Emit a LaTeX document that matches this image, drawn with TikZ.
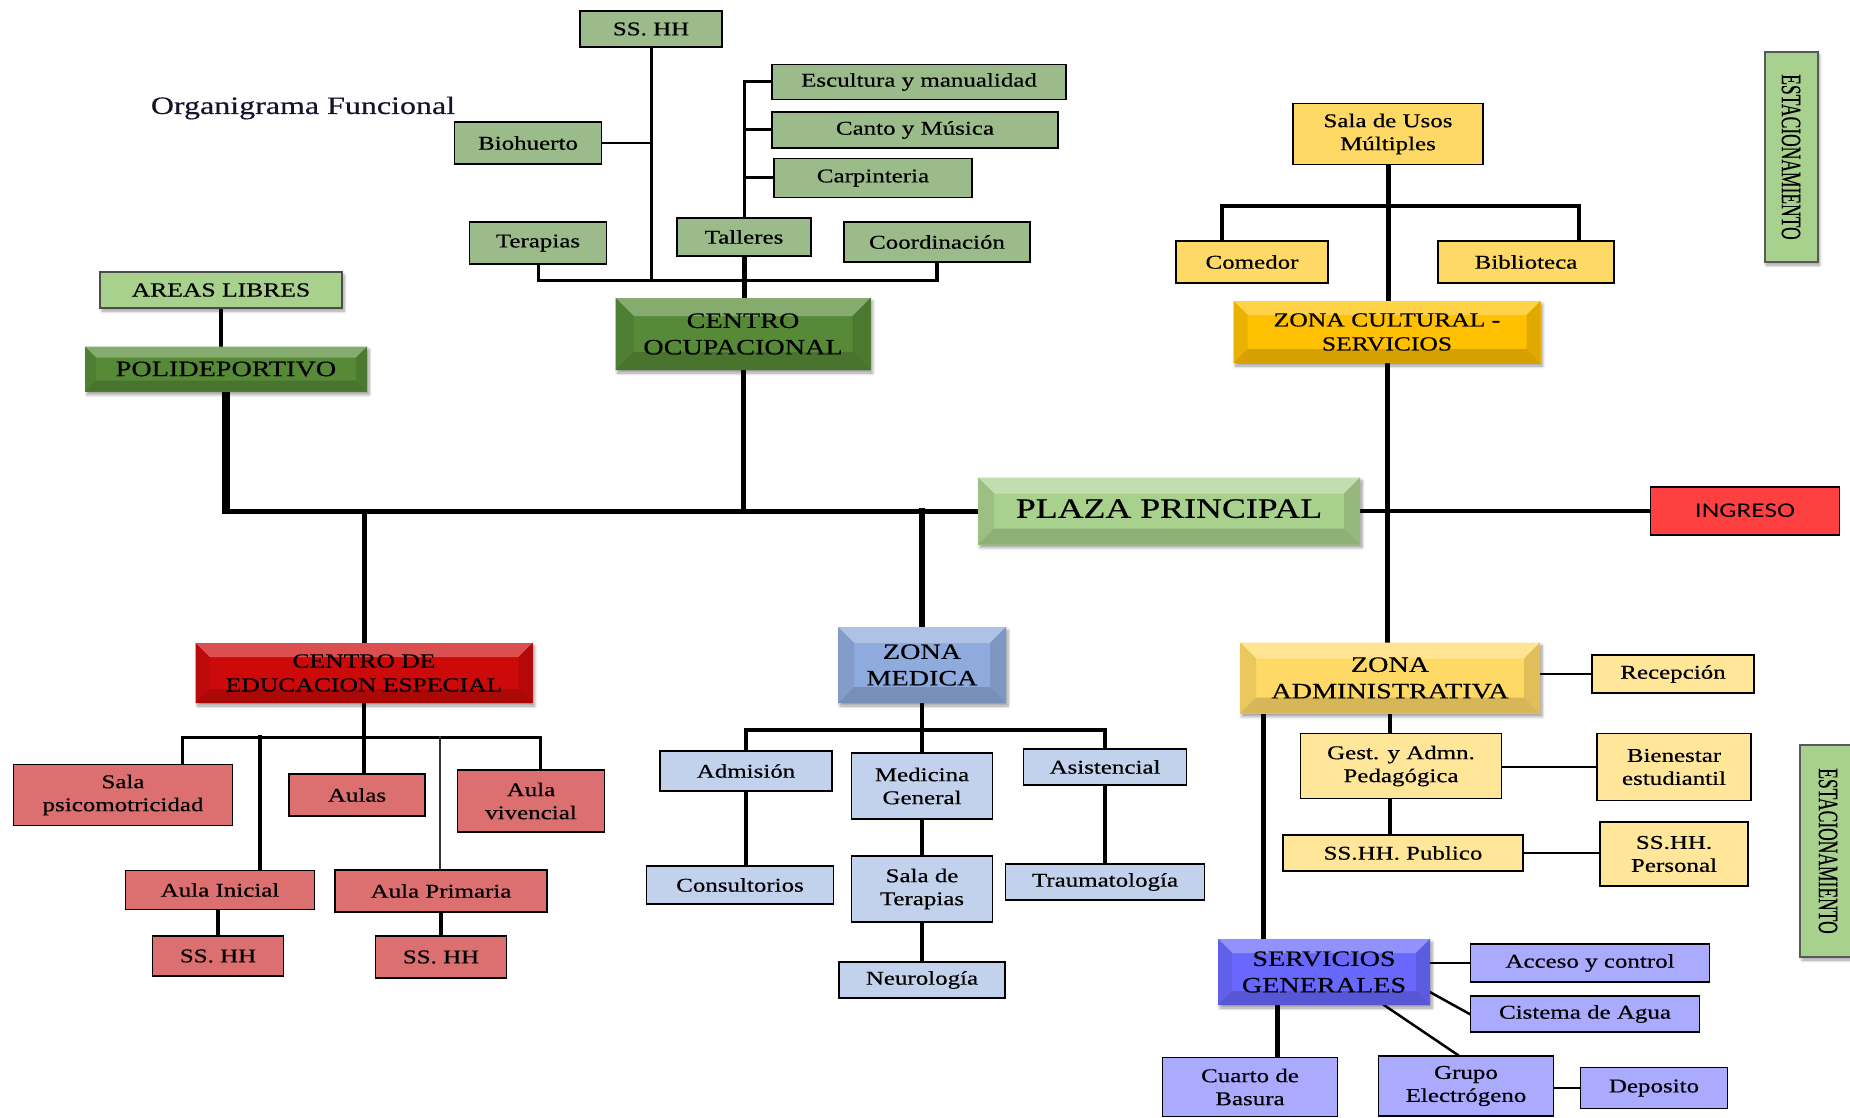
\documentclass[tikz,border=0pt]{standalone}
\usepackage{fontspec}
\setmainfont[FakeStretch=1.28,FakeBold=0.5]{Liberation Serif}
\newfontfamily\plainserif[FakeBold=0.4]{Liberation Serif}
\newfontfamily\ingfont[FakeStretch=1.3]{Carlito}
\usetikzlibrary{shadows.blur,calc,backgrounds}
\definecolor{cOlive}{HTML}{9CBB8A}
\definecolor{cLG}{HTML}{A9D18E}
\definecolor{cDG}{HTML}{568A37}
\definecolor{cRedL}{HTML}{DC7070}
\definecolor{cRedD}{HTML}{CC0A0A}
\definecolor{cBlueL}{HTML}{C3D2EC}
\definecolor{cBlueD}{HTML}{8FAADC}
\definecolor{cYel}{HTML}{FFD966}
\definecolor{cYelL}{HTML}{FFE699}
\definecolor{cGold}{HTML}{FFC000}
\definecolor{cPur}{HTML}{6868FF}
\definecolor{cPurL}{HTML}{AAAAFF}
\definecolor{cIng}{HTML}{FF4040}
\definecolor{cTitle}{HTML}{14142C}
\tikzset{
  bx/.style={draw=black, line width=1.8pt, inner sep=0pt, align=center, text=black,
    font=\fontsize{19.5}{23}\selectfont},
  wh/.style 2 args={minimum width=#1pt, minimum height=#2pt},
  og/.style={bx, fill=cOlive},
  yl/.style={bx, fill=cYel},
  yp/.style={bx, fill=cYelL},
  rd/.style={bx, fill=cRedL},
  bl/.style={bx, fill=cBlueL},
  pu/.style={bx, fill=cPurL},
  shd/.style={blur shadow={shadow blur steps=6, shadow xshift=2pt, shadow yshift=-3pt,
    shadow opacity=40, shadow blur radius=3pt}},
  bev/.style 2 args={fill=#1, draw=none, inner sep=0pt, align=center, text=black, shd,
    path picture={
      \fill[#1!72!white] (path picture bounding box.north west) -- (path picture bounding box.north east)
        -- ([shift={(-#2pt,-#2pt)}]path picture bounding box.north east)
        -- ([shift={(#2pt,-#2pt)}]path picture bounding box.north west) -- cycle;
      \fill[#1!92!black] (path picture bounding box.north west) -- ([shift={(#2pt,-#2pt)}]path picture bounding box.north west)
        -- ([shift={(#2pt,#2pt)}]path picture bounding box.south west) -- (path picture bounding box.south west) -- cycle;
      \fill[#1!88!black] (path picture bounding box.north east) -- ([shift={(-#2pt,-#2pt)}]path picture bounding box.north east)
        -- ([shift={(-#2pt,#2pt)}]path picture bounding box.south east) -- (path picture bounding box.south east) -- cycle;
      \fill[#1!84!black] (path picture bounding box.south west) -- ([shift={(#2pt,#2pt)}]path picture bounding box.south west)
        -- ([shift={(-#2pt,#2pt)}]path picture bounding box.south east) -- (path picture bounding box.south east) -- cycle;
    }},
  big/.style={font=\fontsize{22}{26.5}\selectfont},
  mid/.style={font=\fontsize{20}{24}\selectfont},
  ln/.style={line width=#1pt, draw=black, line cap=rect},
  estbox/.style={draw=black!65, line width=2pt, fill=cLG, shd, inner sep=0pt, rotate=-90,
    font=\plainserif\fontsize{17.5}{20}\selectfont},
}
\begin{document}
\begin{tikzpicture}[x=1pt,y=-1pt]
\useasboundingbox (0,0) rectangle (1850,1118);

% ---------- title ----------
\node[text=cTitle, font=\fontsize{25}{30}\selectfont] (title) at (303,108) {Organigrama Funcional};

% ---------- green (centro ocupacional / polideportivo) ----------
\node[og, wh={142}{36}] (ssA) at (651,29) {SS. HH};
\node[og, wh={147}{42}] (bio) at (528,143) {Biohuerto};
\node[og, wh={137}{42}] (ter) at (538,243) {Terapias};
\node[og, wh={294}{35}] (esc) at (919,82) {Escultura y manualidad};
\node[og, wh={286}{36}] (can) at (915,130) {Canto y Música};
\node[og, wh={198}{39}] (car) at (873,178) {Carpinteria};
\node[og, wh={134}{38}] (tal) at (744,237) {Talleres};
\node[og, wh={186}{40}] (coo) at (937,242) {Coordinación};
\node[bev={cDG}{18}, wh={255}{72}, big] (ocu) at (743,334) {CENTRO\\OCUPACIONAL};
\node[bx, fill=cLG, draw=black!70, shd, wh={242}{36}, mid] (areas) at (221,290) {AREAS LIBRES};
\node[bev={cDG}{11}, wh={282}{45}, big] (poli) at (226,369) {POLIDEPORTIVO};

% ---------- plaza / ingreso ----------
\node[bev={cLG}{16}, wh={382}{67}, font=\fontsize{28}{32}\selectfont] (plaza) at (1169,511) {\raisebox{5pt}{PLAZA PRINCIPAL}};
\node[bx, fill=cIng, wh={189}{48}, font=\ingfont\fontsize{21}{24}\selectfont] (ing) at (1745,511) {INGRESO};

% ---------- estacionamiento ----------
\node[estbox, minimum width=210pt, minimum height=53pt] (est1) at (1791,157) {\scalebox{1}[1.6]{ESTACIONAMIENTO}};
\node[estbox, minimum width=212pt, minimum height=56pt] (est2) at (1828,851) {\scalebox{1}[1.6]{ESTACIONAMIENTO}};

% ---------- yellow ----------
\node[yl, wh={190}{61}] (sum) at (1388,134) {Sala de Usos\\Múltiples};
\node[yl, wh={152}{42}] (com) at (1252,262) {Comedor};
\node[yl, wh={176}{42}] (bib) at (1526,262) {Biblioteca};
\node[bev={cGold}{14}, wh={307}{62}, mid] (zcs) at (1387,332) {ZONA CULTURAL -\\SERVICIOS};
\node[bev={cYel}{16}, wh={300}{71}, big] (zad) at (1390,678) {ZONA\\ADMINISTRATIVA};
\node[yp, wh={162}{38}] (rec) at (1673,674) {Recepción};
\node[yp, wh={201}{65}] (ges) at (1401,766) {Gest. y Admn.\\Pedagógica};
\node[yp, wh={154}{67}] (bie) at (1674,767) {Bienestar\\estudiantil};
\node[yp, wh={240}{36}] (ssp) at (1403,853) {SS.HH. Publico};
\node[yp, wh={148}{64}] (sspe) at (1674,854) {SS.HH.\\Personal};

% ---------- purple ----------
\node[bev={cPur}{14}, wh={212}{66}, big] (sg) at (1324,972) {SERVICIOS\\GENERALES};
\node[pu, wh={239}{38}] (acc) at (1590,963) {Acceso y control};
\node[pu, wh={229}{36}] (cis) at (1585,1014) {Cistema de Agua};
\node[pu, wh={175}{59}] (cua) at (1250,1087) {Cuarto de\\Basura};
\node[pu, wh={175}{60}] (gru) at (1466,1086) {Grupo\\Electrógeno};
\node[pu, wh={147}{41}] (dep) at (1654,1088) {Deposito};

% ---------- blue ----------
\node[bev={cBlueD}{16}, wh={168}{76}, big] (zm) at (922,665) {ZONA\\MEDICA};
\node[bl, wh={172}{40}] (adm) at (746,771) {Admisión};
\node[bl, wh={141}{66}] (med) at (922,786) {Medicina\\General};
\node[bl, wh={163}{36}] (asi) at (1105,767) {Asistencial};
\node[bl, wh={187}{38}] (con) at (740,885) {Consultorios};
\node[bl, wh={141}{66}] (sal) at (922,889) {Sala de\\Terapias};
\node[bl, wh={199}{36}] (tra) at (1105,882) {Traumatología};
\node[bl, wh={166}{36}] (neu) at (922,980) {Neurología};

% ---------- red ----------
\node[bev={cRedD}{14}, wh={337}{60}, mid] (cee) at (364,673) {CENTRO DE\\EDUCACION ESPECIAL};
\node[rd, wh={219}{61}] (psi) at (123,795) {Sala\\psicomotricidad};
\node[rd, wh={136}{42}] (aul) at (357,795) {Aulas};
\node[rd, wh={147}{62}] (viv) at (531,801) {Aula\\vivencial};
\node[rd, wh={189}{39}] (ini) at (220,890) {Aula Inicial};
\node[rd, wh={212}{42}] (pri) at (441,891) {Aula Primaria};
\node[rd, wh={131}{40}] (ssB) at (218,956) {SS. HH};
\node[rd, wh={131}{42}] (ssC) at (441,957) {SS. HH};

% ---------- junction coordinates ----------
\coordinate (hb) at (651,280);
\coordinate (yb) at (1388,206);
\coordinate (mb) at (922,730);
\coordinate (rL) at (182,737);
\coordinate (rR) at (540,737);
\coordinate (rI) at (260,737);
\coordinate (rP) at (440,737);

% ---------- connectors (behind nodes) ----------
\begin{scope}[on background layer]
% green top cluster
\draw[ln=3] (ter.south) -- (ter.south |- hb) -- (coo.south |- hb);
\draw[ln=4.5] (coo.south) -- (coo.south |- hb);
\draw[ln=3] (ssA.south) -- (ssA.south |- hb);
\draw[ln=2] (bio.east) -- (bio.east -| ssA.south);
\draw[ln=3] (tal.north) -- (tal.north |- esc.west) -- (esc.west);
\draw[ln=3] (tal.north |- can.west) -- (can.west);
\draw[ln=3] (tal.north |- car.west) -- (car.west);
\draw[ln=5] (tal.south) -- (tal.south |- ocu.north);
\draw[ln=4] (areas.south) -- (areas.south |- poli.north);
% main trunk
\draw[line width=8pt, line cap=butt] (poli.south) -- ([yshift=-2.5pt]poli.south |- plaza.west);
\draw[line width=5pt, line cap=butt] ([xshift=-4pt]poli.south |- plaza.west) -- (plaza.west);
\draw[ln=5] (ocu.south) -- (ocu.south |- plaza.west);
\draw[ln=5] (cee.north) -- (cee.north |- plaza.west);
\draw[ln=6] (zm.north) -- (zm.north |- plaza.west);
\draw[ln=4.5] (plaza.east) -- (ing.west);
% right vertical spine
\draw[ln=5] (sum.south) -- (sum.south |- zcs.north);
\draw[ln=5] (zcs.south) -- (zcs.south |- zad.north);
\draw[ln=3.5] ([xshift=-30pt]com.north) -- ([xshift=-30pt]com.north |- yb) -- ([xshift=53pt]bib.north |- yb) -- ([xshift=53pt]bib.north);
% administrative
\draw[ln=2] (zad.east |- rec.west) -- (rec.west);
\draw[ln=4] (zad.south) -- (zad.south |- ges.north);
\draw[ln=2] (ges.east |- bie.west) -- (bie.west);
\draw[ln=4] (zad.south |- ges.south) -- (zad.south |- ssp.north);
\draw[ln=2] (ssp.east) -- (ssp.east -| sspe.west);
\draw[ln=5] ([xshift=24pt]zad.south west) -- ([xshift=24pt]zad.south west |- sg.north);
% servicios generales
\draw[ln=2.5] (sg.east |- acc.west) -- (acc.west);
\draw[ln=2.5] ([yshift=13pt]sg.south east) -- (cis.west);
\draw[ln=2.5] ([xshift=-46pt]sg.south east) -- ([xshift=-8pt]gru.north);
\draw[ln=5] ([xshift=-47pt]sg.south) -- ([xshift=-47pt]sg.south |- cua.north);
\draw[ln=2.5] (gru.east |- dep.west) -- (dep.west);
% medical
\draw[ln=4.5] (zm.south) -- (zm.south |- mb);
\draw[ln=3.5] (adm.north) -- (adm.north |- mb) -- (asi.north |- mb) -- (asi.north);
\draw[ln=4.5] (med.north |- mb) -- (med.north);
\draw[ln=4] (adm.south) -- (adm.south |- con.north);
\draw[ln=4] (med.south) -- (sal.north);
\draw[ln=4] (asi.south) -- (asi.south |- tra.north);
\draw[ln=4] (sal.south) -- (neu.north);
% special education
\draw[ln=3.5] (cee.south) -- (cee.south |- aul.north);
\draw[ln=3] (rL |- psi.north) -- (rL) -- (rR) -- (rR |- viv.north);
\draw[ln=4.5] (rI) -- (rI |- ini.north);
\draw[ln=2.5, draw=black!80] (rP) -- (rP |- pri.north);
\draw[ln=4] (ssB.north |- ini.south) -- (ssB.north);
\draw[ln=4] (ssC.north |- pri.south) -- (ssC.north);
\end{scope}
\end{tikzpicture}
\end{document}
